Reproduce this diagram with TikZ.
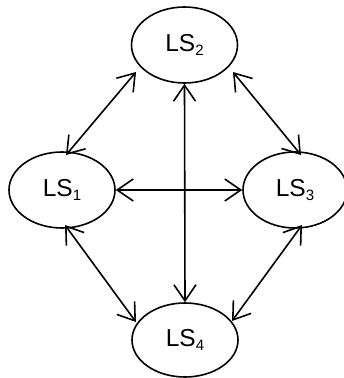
\documentclass[tikz,border=0pt]{standalone}
\usepackage{fontspec}
\setmainfont{Liberation Sans}
\usetikzlibrary{arrows.meta,shapes.geometric}

% state label with a lowered index
\newcommand{\lsname}[1]{LS\raisebox{-3.4pt}{\fontsize{15}{15}\selectfont #1}}

\begin{document}
\begin{tikzpicture}[x=1pt,y=-1pt,
  statenode/.style={draw, ellipse, line width=1.6pt, inner sep=0pt,
    minimum width=106pt, minimum height=76pt,
    font=\fontsize{24.5}{24.5}\selectfont},
  link/.style={line width=1.6pt,
    {Straight Barb[length=16pt,width=22pt,line width=1.6pt]}-{Straight Barb[length=16pt,width=22pt,line width=1.6pt]}}]
  \useasboundingbox (0,0) rectangle (344,378);

  \node[statenode] (LS2) at (184.5,45) {\lsname{2}};
  \node[statenode] (LS1) at (62,190) {\lsname{1}};
  \node[statenode, minimum width=104pt] (LS3) at (295,190) {\lsname{3}};
  \node[statenode, minimum height=74pt] (LS4) at (185,340) {\lsname{4}};

  % outer ring of links
  \draw[link] ([shift={(-48.5,27)}]LS2.center) -- ([shift={(4,-35)}]LS1.center);
  \draw[link] ([shift={(48.5,27)}]LS2.center) -- ([shift={(6,-35)}]LS3.center);
  \draw[link] ([shift={(3,35)}]LS1.center) -- ([shift={(-49,-18)}]LS4.center);
  \draw[link] ([shift={(7,35)}]LS3.center) -- ([shift={(47,-19)}]LS4.center);

  % crossing links
  \draw[link] (LS2.south) -- (LS4.north);
  \draw[link] (LS1.east) -- (LS3.west);
\end{tikzpicture}
\end{document}
